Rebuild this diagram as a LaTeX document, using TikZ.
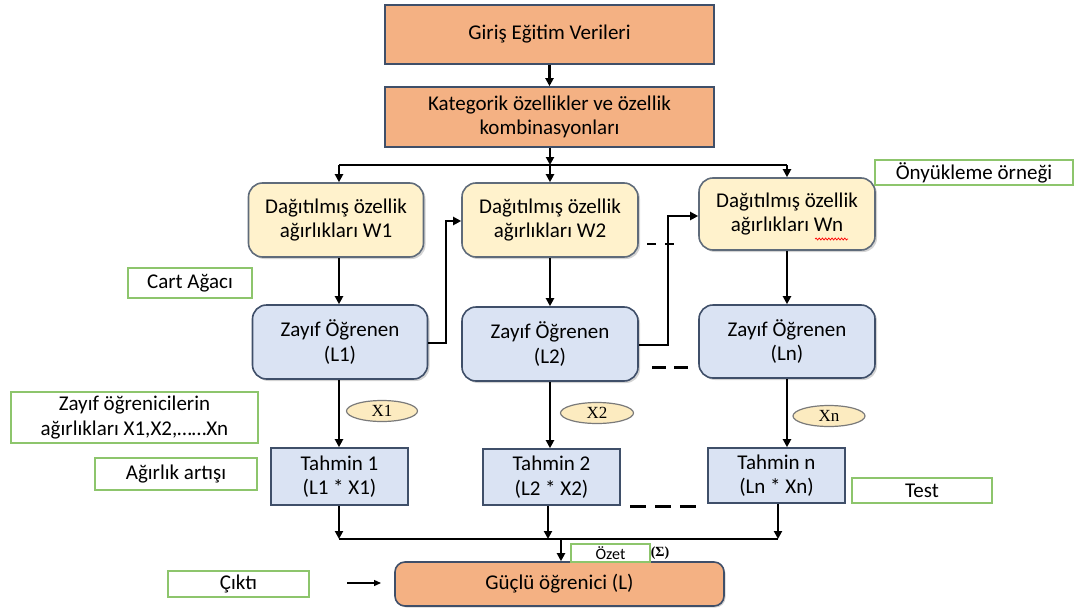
\documentclass[tikz,border=0pt]{standalone}
\usepackage{fontspec}
\setmainfont{Carlito}
\newfontfamily\timesfont{Liberation Serif}
\usetikzlibrary{arrows.meta,shadows,shapes.geometric,decorations.pathmorphing}
\definecolor{orangefill}{HTML}{F4B183}
\definecolor{yellowfill}{HTML}{FFF2CC}
\definecolor{ovalfill}{HTML}{FCEBC0}
\definecolor{bluefill}{HTML}{DAE3F3}
\definecolor{navyline}{HTML}{3F4F69}
\definecolor{grayline}{HTML}{5F6B7A}
\definecolor{greenline}{HTML}{8DC56C}
\definecolor{ellline}{HTML}{7A7A7A}
\begin{document}
\begin{tikzpicture}[x=1pt,y=-1pt,
  base/.style={draw, line width=1.6pt, align=center, inner sep=2pt,
    font=\fontsize{21}{24.5}\selectfont},
  orangebox/.style={base, fill=orangefill, draw=navyline},
  orangeround/.style={orangebox, rounded corners=10pt,
    drop shadow={shadow xshift=1.5pt, shadow yshift=-1.5pt, opacity=0.35}},
  weightbox/.style={base, fill=yellowfill, draw=grayline, rounded corners=14pt,
    drop shadow={shadow xshift=2pt, shadow yshift=-2pt, opacity=0.35}},
  learnerbox/.style={base, fill=bluefill, draw=navyline, rounded corners=14pt,
    drop shadow={shadow xshift=2pt, shadow yshift=-2pt, opacity=0.35}},
  predbox/.style={base, fill=bluefill, draw=navyline},
  notebox/.style={base, draw=greenline, line width=1.4pt, fill=white},
  weightoval/.style={ellipse, draw=ellline, line width=1.2pt, fill=ovalfill,
    inner sep=0pt, font=\timesfont\fontsize{17}{18}\selectfont},
  wire/.style={line width=2.2pt},
  arr/.style={line width=2.2pt, -{Triangle[length=8pt,width=8pt]}},
  gap/.style={line width=3pt}
]
\useasboundingbox (0,0) rectangle (1080,608);

% --- top chain ---
\node[orangebox, minimum width=329pt, minimum height=59pt] (in) at (549.5,34.5) {Giriş Eğitim Verileri};
\node[orangebox, minimum width=329pt, minimum height=60pt] (kat) at (549.5,117) {Kategorik özellikler ve özellik\\kombinasyonları};

% --- column coordinates ---
\coordinate (c1) at (339,0);
\coordinate (c2) at (550,0);
\coordinate (c3) at (787,0);
\coordinate (split) at (550,165);

% --- weight boxes ---
\node[weightbox, minimum width=175pt, minimum height=74pt] (w1) at (336,220) {Dağıtılmış özellik\\ağırlıkları W1};
\node[weightbox, minimum width=176pt, minimum height=74pt] (w2) at (550,220) {Dağıtılmış özellik\\ağırlıkları W2};
\node[weightbox, minimum width=176pt, minimum height=72pt] (wn) at (787,214) {Dağıtılmış özellik\\ağırlıkları Wn};

% --- weak learners ---
\node[learnerbox, minimum width=175pt, minimum height=74pt] (l1) at (340,342) {Zayıf Öğrenen\\(L1)};
\node[learnerbox, minimum width=176pt, minimum height=74pt] (l2) at (550,344) {Zayıf Öğrenen\\(L2)};
\node[learnerbox, minimum width=176pt, minimum height=73pt] (ln) at (787,341.5) {Zayıf Öğrenen\\(Ln)};

% --- predictions ---
\node[predbox, minimum width=137pt, minimum height=57pt] (t1) at (339.5,476.5) {Tahmin 1\\(L1 * X1)};
\node[predbox, minimum width=137pt, minimum height=56pt] (t2) at (551.5,477) {Tahmin 2\\(L2 * X2)};
\node[predbox, minimum width=137pt, minimum height=55pt] (tn) at (776.5,475.5) {Tahmin n\\(Ln * Xn)};

% --- strong learner ---
\node[orangeround, minimum width=329pt, minimum height=44pt] (L) at (559.5,584) {Güçlü öğrenici (L)};

% --- side notes ---
\node[notebox, minimum width=198pt, minimum height=25pt] (boot) at (974,172.5) {Önyükleme örneği};
\node[notebox, minimum width=124pt, minimum height=30pt] (cart) at (190,283) {Cart Ağacı};
\node[notebox, minimum width=247pt, minimum height=51pt] (zw) at (134.5,417.5) {Zayıf öğrenicilerin\\ağırlıkları X1,X2,……Xn};
\node[notebox, minimum width=162pt, minimum height=32pt] (art) at (176,474) {Ağırlık artışı};
\node[notebox, minimum width=140pt, minimum height=25pt] (test) at (922,490.5) {Test};
\node[notebox, minimum width=141pt, minimum height=26pt] (cikti) at (238.5,584) {Çıktı};
\node[notebox, line width=1.1pt, minimum width=79pt, minimum height=18pt, inner sep=0pt,
  font=\fontsize{16}{17}\selectfont] (ozet) at (610.5,553) {Özet};
\node[anchor=west, inner sep=0pt, font=\timesfont\bfseries\fontsize{14}{15}\selectfont] (sigma) at (ozet.east) {(Σ)};

% --- learner weights ---
\node[weightoval, minimum width=71pt, minimum height=21pt] (x1) at (382,411) {X1};
\node[weightoval, minimum width=73pt, minimum height=21pt] (x2) at (597,413) {X2};
\node[weightoval, minimum width=72pt, minimum height=21pt] (xn) at (829,416) {Xn};

% spell-check squiggle under Wn
\draw[red, line width=0.7pt, decorate, decoration={snake, amplitude=1pt, segment length=3.2pt}]
  ([xshift=28pt,yshift=-25pt]wn.center) -- ([xshift=61pt,yshift=-25pt]wn.center);

% --- connectors: top ---
\draw[arr] (in.south) -- (kat.north);
\draw[arr] (kat.south -| split) -- (split);
\draw[wire] (split -| c1) -- (split -| c3);
\draw[arr] (split) -- (w2.north -| split);
\draw[arr] (split -| c1) -- (w1.north -| c1);
\draw[arr] (split -| c3) -- (wn.north -| c3);

% --- weights to learners ---
\draw[arr] (w1.south -| c1) -- (l1.north -| c1);
\draw[arr] (w2.south -| c2) -- (l2.north -| c2);
\draw[arr] (wn.south -| c3) -- (ln.north -| c3);

% --- boosting feedback ---
\coordinate (fb1) at (446,0);
\coordinate (fb2) at (668,0);
\draw[arr] ([yshift=-1pt]l1.east) -- ([yshift=-1pt]l1.east -| fb1) -- ([yshift=-1pt]w2.west -| fb1) -- ([yshift=-1pt]w2.west);
\draw[arr] ([yshift=-1pt]l2.east) -- ([yshift=-1pt]l2.east -| fb2) -- ([yshift=-2pt]wn.west -| fb2) -- ([yshift=-2pt]wn.west);

% --- learners to predictions ---
\draw[arr] (l1.south -| c1) -- (t1.north -| c1);
\draw[arr] (l2.south -| c2) -- (t2.north -| c2);
\draw[arr] (ln.south -| c3) -- (tn.north -| c3);

% --- ellipsis dashes ---
\coordinate (d1a) at (647,244);
\coordinate (d1b) at (675,244);
\draw[line width=2.4pt, dash pattern=on 9pt off 9pt] (d1a) -- (d1b);
\coordinate (d2a) at (652,367);
\coordinate (d2b) at (688,367);
\draw[gap, dash pattern=on 14pt off 8pt] (d2a) -- (d2b);
\coordinate (d3a) at (630,506);
\coordinate (d3b) at (696,506);
\draw[gap, dash pattern=on 16pt off 9pt] (d3a) -- (d3b);

% --- summation ---
\coordinate (sumL) at (339,539);
\coordinate (sumR) at (778,539);
\coordinate (sumM) at (561,539);
\coordinate (sum2) at (548,539);
\draw[arr] (t1.south -| sumL) -- (sumL);
\draw[arr] (t2.south -| sum2) -- (sum2);
\draw[arr] (tn.south -| sumR) -- (sumR);
\draw[wire] (sumL) -- (sumR);
\draw[arr] (sumM) -- (L.north -| sumM);

% --- output arrow ---
\coordinate (outA) at (347,583);
\coordinate (outB) at (381,583);
\draw[line width=1.3pt, -{Triangle[length=7pt,width=6pt]}] (outA) -- (outB);
\end{tikzpicture}
\end{document}
